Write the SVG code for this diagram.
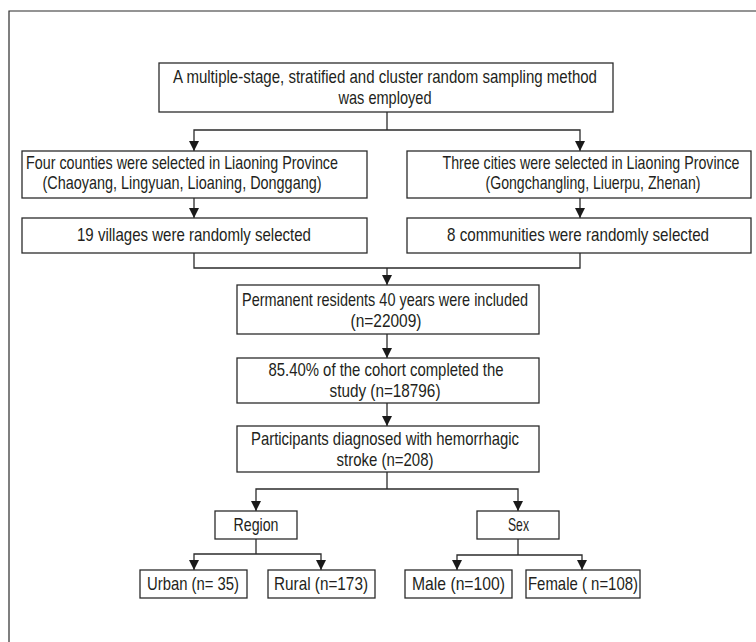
<svg xmlns="http://www.w3.org/2000/svg" width="756" height="642" viewBox="0 0 756 642">
<style>
  .box{fill:#fff;stroke:#2b2b2b;stroke-width:1.3}
  .t{font-family:"Liberation Sans",Arial,sans-serif;font-size:18px;fill:#231f20;text-anchor:middle}
  .c{fill:none;stroke:#2b2b2b;stroke-width:1.3}
  .frame{fill:none;stroke:#2b2b2b;stroke-width:1.2}
</style>
<defs>
  <marker id="ah" viewBox="0 0 10 10" refX="10" refY="5" markerWidth="10" markerHeight="12" markerUnits="userSpaceOnUse" orient="auto">
    <path d="M0,0 L10,5 L0,10 z" fill="#1a1a1a"/>
  </marker>
</defs>
<rect width="756" height="642" fill="#fff"/>
<path class="frame" d="M9,642 V11 H756"/>

<g id="connectors">
  <path class="c" d="M387,112 V130"/>
  <path class="c" d="M387,130 H194 V151" marker-end="url(#ah)"/>
  <path class="c" d="M387,130 H580 V151" marker-end="url(#ah)"/>
  <path class="c" d="M194,198 V218" marker-end="url(#ah)"/>
  <path class="c" d="M580,198 V218" marker-end="url(#ah)"/>
  <path class="c" d="M194,253 V268 H580 V253"/>
  <path class="c" d="M387,268 V285" marker-end="url(#ah)"/>
  <path class="c" d="M387,334 V358" marker-end="url(#ah)"/>
  <path class="c" d="M387,403 V426" marker-end="url(#ah)"/>
  <path class="c" d="M387,472 V489"/>
  <path class="c" d="M387,489 H256 V511" marker-end="url(#ah)"/>
  <path class="c" d="M387,489 H518 V511" marker-end="url(#ah)"/>
  <path class="c" d="M256,539 V554"/>
  <path class="c" d="M256,554 H194 V570" marker-end="url(#ah)"/>
  <path class="c" d="M256,554 H321 V570" marker-end="url(#ah)"/>
  <path class="c" d="M518,539 V555"/>
  <path class="c" d="M518,555 H457 V570" marker-end="url(#ah)"/>
  <path class="c" d="M518,555 H582 V570" marker-end="url(#ah)"/>
</g>

<g id="n-method">
  <rect class="box" x="159" y="63" width="454" height="49"/>
  <text class="t" transform="scale(0.78,1)" x="493.59" y="83" textLength="543.59" lengthAdjust="spacingAndGlyphs">A multiple-stage, stratified and cluster random sampling method</text>
  <text class="t" transform="scale(0.78,1)" x="493.59" y="104" textLength="119.23" lengthAdjust="spacingAndGlyphs">was employed</text>
</g>
<g id="n-counties">
  <rect class="box" x="22" y="151" width="345" height="47"/>
  <text class="t" transform="scale(0.78,1)" x="233.33" y="169" textLength="400" lengthAdjust="spacingAndGlyphs">Four counties were selected in Liaoning Province</text>
  <text class="t" transform="scale(0.78,1)" x="233.33" y="189" textLength="357.69" lengthAdjust="spacingAndGlyphs">(Chaoyang, Lingyuan, Lioaning, Donggang)</text>
</g>
<g id="n-cities">
  <rect class="box" x="407" y="151" width="344" height="47"/>
  <text class="t" transform="scale(0.78,1)" x="757.69" y="169" textLength="380.77" lengthAdjust="spacingAndGlyphs">Three cities were selected in Liaoning Province</text>
  <text class="t" transform="scale(0.78,1)" x="760.26" y="189" textLength="275.64" lengthAdjust="spacingAndGlyphs">(Gongchangling, Liuerpu, Zhenan)</text>
</g>
<g id="n-villages">
  <rect class="box" x="22" y="218" width="345" height="35"/>
  <text class="t" transform="scale(0.78,1)" x="248.72" y="241" textLength="300" lengthAdjust="spacingAndGlyphs">19 villages were randomly selected</text>
</g>
<g id="n-communities">
  <rect class="box" x="407" y="218" width="344" height="35"/>
  <text class="t" transform="scale(0.78,1)" x="741.03" y="241" textLength="335.9" lengthAdjust="spacingAndGlyphs">8 communities were randomly selected</text>
</g>
<g id="n-residents">
  <rect class="box" x="237" y="285" width="302" height="49"/>
  <text class="t" transform="scale(0.78,1)" x="493.59" y="306" textLength="366.67" lengthAdjust="spacingAndGlyphs">Permanent residents 40 years were included</text>
  <text class="t" transform="scale(0.78,1)" x="494.87" y="327" textLength="91.03" lengthAdjust="spacingAndGlyphs">(n=22009)</text>
</g>
<g id="n-cohort">
  <rect class="box" x="237" y="358" width="302" height="45"/>
  <text class="t" transform="scale(0.78,1)" x="494.87" y="376" textLength="301.28" lengthAdjust="spacingAndGlyphs">85.40% of the cohort completed the</text>
  <text class="t" transform="scale(0.78,1)" x="493.59" y="397" textLength="142.31" lengthAdjust="spacingAndGlyphs">study (n=18796)</text>
</g>
<g id="n-participants">
  <rect class="box" x="237" y="426" width="302" height="46"/>
  <text class="t" transform="scale(0.78,1)" x="493.59" y="445" textLength="343.59" lengthAdjust="spacingAndGlyphs">Participants diagnosed with hemorrhagic</text>
  <text class="t" transform="scale(0.78,1)" x="493.59" y="466" textLength="124.36" lengthAdjust="spacingAndGlyphs">stroke (n=208)</text>
</g>
<g id="n-region">
  <rect class="box" x="215" y="511" width="82" height="28"/>
  <text class="t" transform="scale(0.78,1)" x="328.21" y="531" textLength="57.69" lengthAdjust="spacingAndGlyphs">Region</text>
</g>
<g id="n-sex">
  <rect class="box" x="477" y="511" width="82" height="28"/>
  <text class="t" transform="scale(0.78,1)" x="664.74" y="531" textLength="26.92" lengthAdjust="spacingAndGlyphs">Sex</text>
</g>
<g id="n-urban">
  <rect class="box" x="140" y="570" width="107" height="28"/>
  <text class="t" transform="scale(0.78,1)" x="247.44" y="590" textLength="117.95" lengthAdjust="spacingAndGlyphs">Urban (n= 35)</text>
</g>
<g id="n-rural">
  <rect class="box" x="268" y="570" width="107" height="28"/>
  <text class="t" transform="scale(0.78,1)" x="411.54" y="590" textLength="120.51" lengthAdjust="spacingAndGlyphs">Rural (n=173)</text>
</g>
<g id="n-male">
  <rect class="box" x="405" y="570" width="107" height="28"/>
  <text class="t" transform="scale(0.78,1)" x="587.82" y="590" textLength="119.23" lengthAdjust="spacingAndGlyphs">Male (n=100)</text>
</g>
<g id="n-female">
  <rect class="box" x="526" y="570" width="114" height="28"/>
  <text class="t" transform="scale(0.78,1)" x="747.44" y="590" textLength="141.03" lengthAdjust="spacingAndGlyphs">Female ( n=108)</text>
</g>
</svg>
